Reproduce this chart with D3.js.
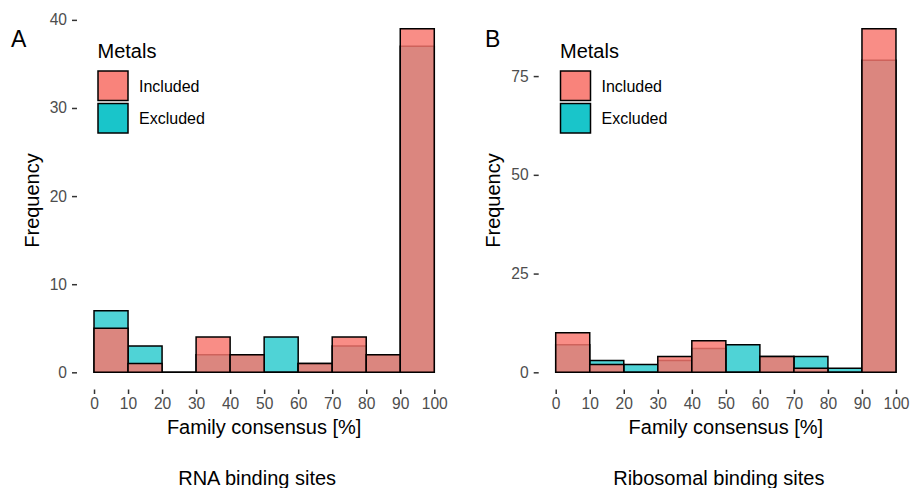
<!DOCTYPE html>
<html><head><meta charset="utf-8">
<script src="https://cdn.jsdelivr.net/npm/d3@7"></script>
<style>body{margin:0;background:#fff}svg{display:block}text{font-family:"Liberation Sans",Arial,sans-serif}</style>
</head><body><svg id="c" width="912" height="488"></svg>
<script>
const binEdges = [0,10,20,30,40,50,60,70,80,90,100];
const seriesNames = ["Included","Excluded"];
const colors = {Included:"#F8766D", Excluded:"#00BFC4"};
// Panel A: RNA binding sites
const rnaIncluded = [5,1,0,4,2,0,1,4,2,39];
const rnaExcluded = [7,3,0,2,2,4,1,3,2,37];
// Panel B: Ribosomal binding sites
const riboIncluded = [10,2,0,4,8,0,4,1,0,87];
const riboExcluded = [7,3,2,3,6,7,4,4,1,79];
const xTicks = [0,10,20,30,40,50,60,70,80,90,100];
const yTicksA = [0,10,20,30,40];
const yTicksB = [0,25,50,75];

const svg = d3.select("#c");
const alphas = {Included:0.83, Excluded:0.69};

function panel(cfg){
  const g = svg.append("g");
  const x = d3.scaleLinear().domain([-5,105]).range([cfg.left, cfg.left+374.3]);
  const ymax = cfg.ymax*1.05;
  const ymin = -cfg.ymax*0.05;
  const y = d3.scaleLinear().domain([ymin, ymax]).range([389.5, 11.5]);

  // bars: Excluded first, Included on top
  const order = [["Excluded", cfg.exc],["Included", cfg.inc]];
  order.forEach(([name, vals])=>{
    g.append("g").selectAll("path").data(vals).join("path")
      .attr("d",(d,i)=>{
        const x0 = x(binEdges[i]), x1 = x(binEdges[i+1]), y0 = y(0), y1 = y(d);
        return `M${x0},${y0}V${y1}H${x1}V${y0}Z`;
      })
      .attr("fill",colors[name]).attr("fill-opacity",alphas[name])
      .attr("stroke","#000").attr("stroke-width",1.5);
  });

  // x axis
  const xa = g.append("g").attr("transform","translate(0,389.5)")
    .call(d3.axisBottom(x).tickValues(xTicks).tickSize(4.5).tickPadding(4));
  xa.select(".domain").remove();
  xa.selectAll("line").attr("stroke","#333").attr("stroke-width",1.5);
  xa.selectAll("text").attr("fill","#4D4D4D").style("font-size","15.6px").style("font-family","Liberation Sans, Arial, sans-serif");

  // y axis
  const ya = g.append("g").attr("transform",`translate(${cfg.left},0)`)
    .call(d3.axisLeft(y).tickValues(cfg.yTicks).tickSize(5).tickPadding(5));
  ya.select(".domain").remove();
  ya.selectAll("line").attr("stroke","#333").attr("stroke-width",1.5);
  ya.selectAll("text").attr("fill","#4D4D4D").style("font-size","15.6px").style("font-family","Liberation Sans, Arial, sans-serif");

  const cx = (x(0)+x(100))/2;
  g.append("text").attr("x",cx).attr("y",433.5).attr("text-anchor","middle")
    .style("font-size","20px").text("Family consensus [%]");
  g.append("text").attr("transform",`translate(${cfg.ytitleX},200.5) rotate(-90)`)
    .attr("text-anchor","middle").style("font-size","20px").text("Frequency");
  g.append("text").attr("x",cx-7).attr("y",485).attr("text-anchor","middle")
    .style("font-size","20px").text(cfg.caption);
  g.append("text").attr("x",cfg.tagX).attr("y",46.5).style("font-size","23px").text(cfg.tag);

  // legend
  const lx = cfg.legendX;
  g.append("text").attr("x",lx).attr("y",58.3).style("font-size","20px").text("Metals");
  seriesNames.forEach((n,i)=>{
    g.append("rect").attr("x",lx+0.5).attr("y",71+i*32.5).attr("width",30).attr("height",29.5)
      .attr("fill",colors[n]).attr("fill-opacity",0.9).attr("stroke","#000").attr("stroke-width",1.5);
    g.append("text").attr("x",lx+41.5).attr("y",92.3+i*32).style("font-size","16px").text(n);
  });
}

panel({left:77, ymax:39, yTicks:yTicksA, inc:rnaIncluded, exc:rnaExcluded,
  caption:"RNA binding sites", tag:"A", tagX:11, ytitleX:39, legendX:97.5});
panel({left:538.7, ymax:87, yTicks:yTicksB, inc:riboIncluded, exc:riboExcluded,
  caption:"Ribosomal binding sites", tag:"B", tagX:485, ytitleX:500, legendX:560});
</script></body></html>
